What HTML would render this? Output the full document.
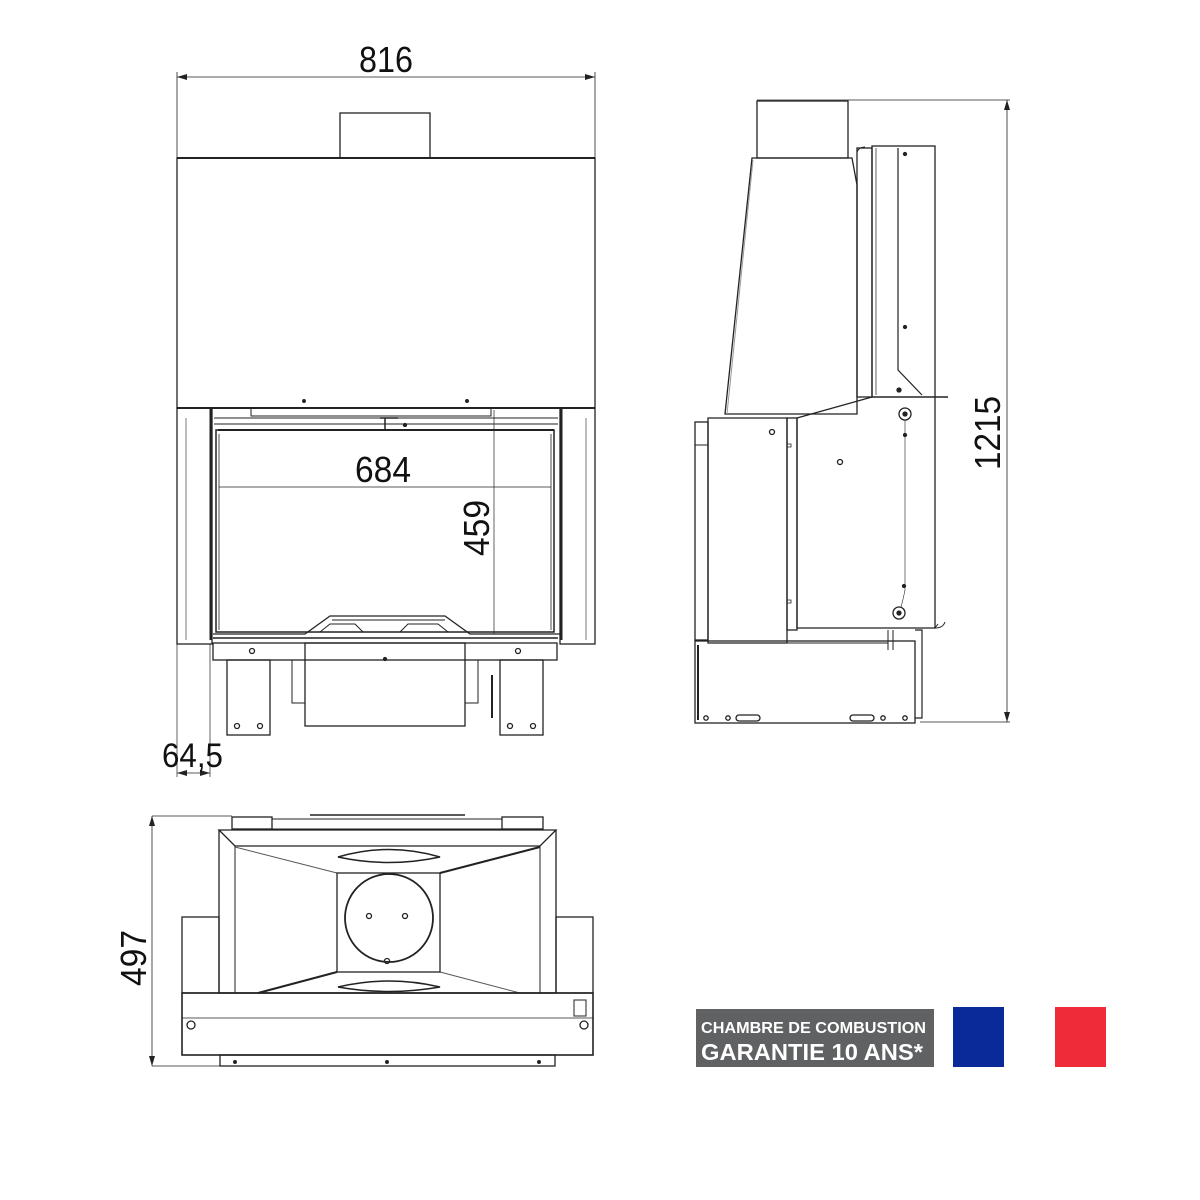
<!DOCTYPE html>
<html><head><meta charset="utf-8"><style>
html,body{margin:0;padding:0;background:#fff;}
svg{display:block;}
.t{font-family:"Liberation Sans",sans-serif;fill:#111;}
</style></head><body>
<svg width="1200" height="1200" viewBox="0 0 1200 1200" xmlns="http://www.w3.org/2000/svg">
<defs>
<marker id="ar" markerWidth="10" markerHeight="6" refX="10" refY="3" orient="auto-start-reverse" markerUnits="userSpaceOnUse">
<path d="M0,0 L10,3 L0,6 z" fill="#222"/></marker>
</defs>
<rect width="1200" height="1200" fill="#fff"/>
<g fill="none" stroke="#222" stroke-width="1.3">
<!-- ===== FRONT VIEW ===== -->
<line x1="177" y1="77" x2="595" y2="77" stroke-width="0.8" marker-start="url(#ar)" marker-end="url(#ar)"/>
<line x1="177" y1="72" x2="177" y2="158" stroke-width="0.8"/>
<line x1="595" y1="72" x2="595" y2="158" stroke-width="0.8"/>
<rect x="340" y="113" width="90" height="45"/>
<rect x="177" y="158" width="418" height="250"/>
<line x1="177" y1="158" x2="595" y2="158" stroke-width="2"/>
<circle cx="304" cy="401" r="1.3" fill="#222"/>
<circle cx="467" cy="401" r="1.3" fill="#222"/>
<!-- pillars -->
<rect x="177" y="408" width="35" height="236"/>
<rect x="560" y="408" width="35" height="236"/>
<line x1="186" y1="418" x2="186" y2="640" stroke-width="0.6"/>
<line x1="586" y1="418" x2="586" y2="640" stroke-width="0.6"/>
<!-- opening -->
<line x1="177" y1="408" x2="595" y2="408" stroke-width="2"/>
<line x1="211" y1="408" x2="211" y2="640" stroke-width="3"/>
<line x1="561" y1="408" x2="561" y2="640" stroke-width="3"/>
<rect x="251" y="408" width="240" height="8" stroke-width="1"/>
<line x1="214" y1="418" x2="558" y2="418" stroke-width="1"/>
<line x1="214" y1="424" x2="558" y2="424" stroke-width="1"/>
<line x1="218" y1="430" x2="554" y2="430" stroke-width="2"/>
<rect x="216" y="430" width="338" height="202" stroke-width="1.5"/>
<line x1="219" y1="434" x2="219" y2="630" stroke-width="0.8"/>
<line x1="551" y1="434" x2="551" y2="630" stroke-width="0.8"/>
<path d="M380,418 h18 M385,418 v12 M374,430 h22" stroke-width="1.5"/>
<circle cx="405" cy="425" r="1.5" fill="#222"/>
<!-- 684 dim -->
<line x1="219" y1="487" x2="551" y2="487" stroke-width="0.7"/>
<!-- 459 dim -->
<line x1="494" y1="410" x2="494" y2="634" stroke-width="0.7"/>
<!-- ash lip -->
<path d="M213,634 h92 l25,-18 h115 l25,18 h90" stroke-width="1.3"/>
<path d="M332,620 h113" stroke-width="1"/>
<path d="M320,632 l10,-8 h25 l8,8 M400,632 l8,-8 h30 l10,8" stroke-width="1"/>
<line x1="213" y1="638" x2="558" y2="638" stroke-width="1.5"/>
<!-- base -->
<rect x="213" y="643" width="344" height="17"/>
<circle cx="252" cy="651" r="2.5"/>
<circle cx="518" cy="651" r="2.5"/>
<rect x="227" y="660" width="43" height="75"/>
<rect x="500" y="660" width="43" height="75"/>
<circle cx="237" cy="726" r="2.5"/><circle cx="260" cy="726" r="2.5"/>
<circle cx="510" cy="726" r="2.5"/><circle cx="533" cy="726" r="2.5"/>
<rect x="305" y="643" width="160" height="83"/>
<circle cx="385" cy="659" r="1.5" fill="#222"/>
<path d="M305,660 h-13 v43 h13 M465,660 h13 v43 h-13" stroke-width="1"/>
<line x1="492" y1="675" x2="492" y2="718" stroke-width="2"/>
<!-- 64,5 -->
<line x1="177" y1="644" x2="177" y2="777" stroke-width="0.7"/>
<line x1="210" y1="644" x2="210" y2="777" stroke-width="0.7"/>
<line x1="177" y1="773" x2="210" y2="773" stroke-width="0.8" marker-start="url(#ar)" marker-end="url(#ar)"/>

<!-- ===== SIDE VIEW ===== -->
<line x1="757" y1="100" x2="1010" y2="100" stroke-width="0.7"/>
<line x1="920" y1="722" x2="1010" y2="722" stroke-width="0.7"/>
<line x1="1007" y1="100" x2="1007" y2="722" stroke-width="0.8" marker-start="url(#ar)" marker-end="url(#ar)"/>
<rect x="757" y="101" width="91" height="57"/>
<path d="M752,158 H852 L857,185 V414 H725 Z" stroke-width="1.3"/>
<line x1="727" y1="414" x2="753" y2="160" stroke="#999" stroke-width="1"/>
<rect x="857" y="148" width="15" height="249"/>
<path d="M857,152 q2,-5 8,-5" stroke-width="1"/>
<rect x="872" y="146" width="63" height="251"/>
<line x1="876" y1="148" x2="876" y2="395" stroke-width="0.7"/>
<path d="M898,148 V370 L922,395" stroke-width="1.2"/>
<line x1="935" y1="397" x2="948" y2="397" stroke-width="1.5"/>
<circle cx="905" cy="154" r="1.5" fill="#222"/>
<circle cx="905" cy="327" r="1.5" fill="#222"/>
<circle cx="899" cy="390" r="2" fill="#222"/>
<!-- body -->
<path d="M708,418 H787 V643 H708 Z"/>
<rect x="695" y="422" width="13" height="218"/>
<line x1="695" y1="445" x2="708" y2="445" stroke-width="1"/>
<rect x="787" y="418" width="10" height="212"/>
<path d="M797,418 L872,397 H935 V628 H797 Z"/>
<path d="M935,628 l3,-4 M935,628 q8,0 10,-6" stroke-width="1"/>
<circle cx="772" cy="432" r="2.5"/>
<circle cx="840" cy="462" r="2.5"/>
<circle cx="905" cy="414" r="6"/><circle cx="905" cy="414" r="2" fill="#222"/>
<circle cx="899" cy="613" r="6"/><circle cx="899" cy="613" r="2" fill="#222"/>
<circle cx="905" cy="435" r="1.5" fill="#222"/>
<circle cx="904" cy="586" r="1.5" fill="#222"/>
<path d="M905,420 V590 Q903,600 901,607" stroke-width="0.6"/>
<path d="M787,444 h4 v3 h-4 M787,600 h4 v3 h-4" stroke-width="0.8"/>
<!-- base -->
<rect x="695" y="641" width="220" height="82"/>
<line x1="698" y1="645" x2="698" y2="720" stroke-width="2"/>
<line x1="708" y1="643" x2="888" y2="643" stroke-width="1"/>
<path d="M888,630 V650 M893,630 V650" stroke-width="1"/>
<path d="M915,630 h7 V718 h-7" stroke-width="1.2"/>
<circle cx="706" cy="718" r="2.2"/><circle cx="728" cy="718" r="2.2"/>
<rect x="736" y="715" width="24" height="6" rx="3"/>
<rect x="850" y="715" width="24" height="6" rx="3"/>
<circle cx="883" cy="718" r="2.2"/><circle cx="905" cy="718" r="2.2"/>

<!-- ===== TOP VIEW ===== -->
<line x1="152" y1="816" x2="232" y2="816" stroke-width="0.7"/>
<line x1="152" y1="1066" x2="220" y2="1066" stroke-width="0.7"/>
<line x1="152" y1="816" x2="152" y2="1066" stroke-width="0.8" marker-start="url(#ar)" marker-end="url(#ar)"/>
<rect x="232" y="817" width="40" height="12"/>
<rect x="502" y="817" width="41" height="12"/>
<rect x="272" y="819" width="230" height="10" stroke-width="1"/>
<line x1="310" y1="815" x2="465" y2="815" stroke-width="1.5"/>
<path d="M219,830 H556 L540,846 H235 Z"/>
<line x1="219" y1="830" x2="219" y2="993"/>
<line x1="556" y1="830" x2="556" y2="993"/>
<line x1="235" y1="846" x2="235" y2="993" stroke-width="1"/>
<line x1="540" y1="846" x2="540" y2="993" stroke-width="1"/>
<line x1="235" y1="847" x2="337" y2="873" stroke-width="1" stroke="#555"/>
<line x1="440" y1="873" x2="540" y2="847" stroke-width="2"/>
<line x1="337" y1="972" x2="258" y2="993" stroke-width="2"/>
<line x1="440" y1="972" x2="520" y2="993" stroke-width="1" stroke="#555"/>
<rect x="337" y="873" width="103" height="99"/>
<circle cx="389" cy="918" r="44" stroke-width="1.8"/>
<circle cx="369" cy="916" r="2.5"/><circle cx="405" cy="916" r="2.5"/>
<circle cx="387" cy="961" r="2.5"/>
<path d="M338,857 Q389,842 440,857 Q389,868 338,857 Z" stroke-width="1.5"/>
<path d="M338,987 Q389,975 440,987 Q389,996 338,987 Z" stroke-width="1.5"/>
<rect x="182" y="917" width="37" height="76"/>
<rect x="556" y="917" width="37" height="76"/>
<rect x="182" y="993" width="411" height="62" stroke-width="1.6"/>
<line x1="219" y1="993" x2="556" y2="993" stroke-width="1.6"/>
<line x1="182" y1="1018" x2="593" y2="1018" stroke-width="0.8"/>
<circle cx="191" cy="1025" r="4"/><circle cx="584" cy="1025" r="4"/>
<rect x="574" y="1000" width="12" height="16" stroke-width="1"/>
<rect x="220" y="1055" width="335" height="11"/>
<circle cx="235" cy="1062" r="1.3" fill="#222"/>
<circle cx="387" cy="1062" r="1.3" fill="#222"/>
<circle cx="539" cy="1062" r="1.3" fill="#222"/>
</g>

<!-- dimension texts -->
<text class="t" x="386" y="72" font-size="36" text-anchor="middle" textLength="54" lengthAdjust="spacingAndGlyphs">816</text>
<text class="t" x="383" y="482" font-size="36" text-anchor="middle" textLength="56" lengthAdjust="spacingAndGlyphs">684</text>
<text class="t" transform="translate(489,528) rotate(-90)" font-size="36" text-anchor="middle" textLength="56" lengthAdjust="spacingAndGlyphs">459</text>
<text class="t" x="162" y="767" font-size="34" textLength="61" lengthAdjust="spacingAndGlyphs">64,5</text>
<text class="t" transform="translate(1000,433) rotate(-90)" font-size="36" text-anchor="middle" textLength="74" lengthAdjust="spacingAndGlyphs">1215</text>
<text class="t" transform="translate(146,958) rotate(-90)" font-size="36" text-anchor="middle" textLength="56" lengthAdjust="spacingAndGlyphs">497</text>

<!-- badge -->
<rect x="696" y="1009" width="238" height="58" fill="#5f6163"/>
<text x="701" y="1033" font-family="Liberation Sans, sans-serif" font-weight="bold" font-size="15.5" fill="#fff" textLength="225" lengthAdjust="spacingAndGlyphs">CHAMBRE DE COMBUSTION</text>
<text x="701" y="1060" font-family="Liberation Sans, sans-serif" font-weight="bold" font-size="23" fill="#fff" textLength="222" lengthAdjust="spacingAndGlyphs">GARANTIE 10 ANS*</text>
<rect x="953" y="1007" width="51" height="60" fill="#0a2a9a"/>
<rect x="1055" y="1007" width="51" height="60" fill="#ef2b3a"/>
</svg>
</body></html>
